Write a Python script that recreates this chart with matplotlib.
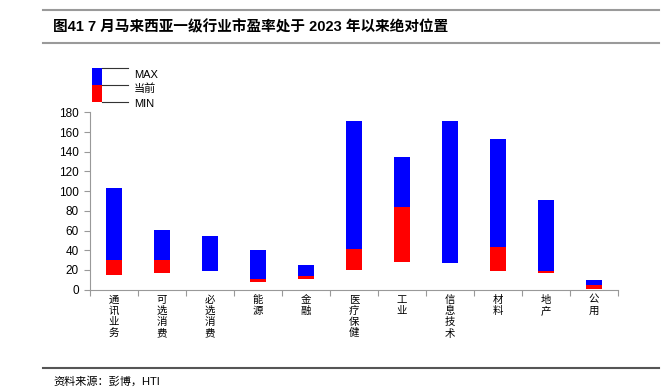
import matplotlib
matplotlib.use("Agg")
import matplotlib.pyplot as plt
from matplotlib.patches import Rectangle
from matplotlib.lines import Line2D

plt.rcParams['font.family'] = ['Liberation Sans', 'Noto Sans CJK SC', 'DejaVu Sans']

# data
sectors = ['通讯业务', '可选消费', '必选消费', '能源', '金融', '医疗保健',
           '工业', '信息技术', '材料', '地产', '公用']
pe_max = [102.9, 60.3, 54.2, 40.3, 25.0, 171.0, 134.6, 171.0, 153.2, 90.7, 9.8]
pe_now = [30.1, 30.4, 18.9, 10.8, 13.9, 41.3, 83.9, 27.2, 43.3, 19.0, 4.8]
pe_min = [14.9, 16.6, 18.6, 7.5, 11.2, 19.7, 28.1, 26.8, 19.3, 16.6, 0.4]

title = '图41 7 月马来西亚一级行业市盈率处于 2023 年以来绝对位置'
source = '资料来源：彭博，HTI'

W, H = 669, 392
fig = plt.figure(figsize=(W / 100, H / 100), dpi=100)

def fx(px):
    return px / W

def fy(py):
    return 1 - py / H

# header / footer rules
for y, c in ((10, '#9a9a9a'), (43, '#9a9a9a'), (368, '#555555')):
    fig.add_artist(Line2D([fx(43), fx(659)], [fy(y), fy(y)], color=c, lw=1.5))
fig.text(fx(53), fy(27), title, fontsize=10.5, fontweight='bold', va='center',
         family=['Liberation Sans', 'Noto Sans CJK SC'])
fig.text(fx(53), fy(381), source, fontsize=8, va='center',
         family=['Liberation Sans', 'Noto Sans CJK SC'])

ax = fig.add_axes([fx(90), fy(289.7), fx(617.7) - fx(90), fy(112.3) - fy(289.7)])

x = list(range(len(sectors)))
red_h = [n - m for n, m in zip(pe_now, pe_min)]
blue_h = [mx - n for mx, n in zip(pe_max, pe_now)]
ax.bar(x, red_h, bottom=pe_min, width=0.34, color='#ff0000', linewidth=0)
ax.bar(x, blue_h, bottom=pe_now, width=0.34, color='#0000ff', linewidth=0)

ax.set_xlim(-0.5, len(sectors) - 0.5)
ax.set_ylim(0, 180)
ax.set_yticks(range(0, 181, 20))
ax.set_xticks([i - 0.5 for i in range(len(sectors) + 1)])
ax.set_xticklabels([])
ax.tick_params(axis='y', labelsize=8.5, length=4, color='#999999', width=0.8, pad=4)
ax.tick_params(axis='x', length=4, color='#999999', width=0.8)
for s in ('top', 'right'):
    ax.spines[s].set_visible(False)
for s in ('left', 'bottom'):
    ax.spines[s].set_color('#999999')
    ax.spines[s].set_linewidth(0.8)

# stacked vertical category labels
for i, name in enumerate(sectors):
    ax.text(i, -5, '\n'.join(name), ha='center', va='top', fontsize=7.5,
            linespacing=1.15, transform=ax.transData,
            family=['Noto Sans CJK SC'])

# legend drawn by hand
fig.add_artist(Rectangle((fx(92), fy(84.5)), fx(102) - fx(92), fy(68) - fy(84.5),
                         color='#0000ff', lw=0))
fig.add_artist(Rectangle((fx(92), fy(102)), fx(102) - fx(92), fy(84.5) - fy(102),
                         color='#ff0000', lw=0))
for y, ty, lab in ((68, 75.5, 'MAX'), (84.5, 89, '当前'), (102, 104, 'MIN')):
    fig.add_artist(Line2D([fx(102), fx(128)], [fy(y), fy(y)], color='#333333', lw=0.8))
    fig.text(fx(134), fy(ty), lab, fontsize=8, va='center',
             family=['Liberation Sans', 'Noto Sans CJK SC'])

fig.savefig('out.png', dpi=100)
